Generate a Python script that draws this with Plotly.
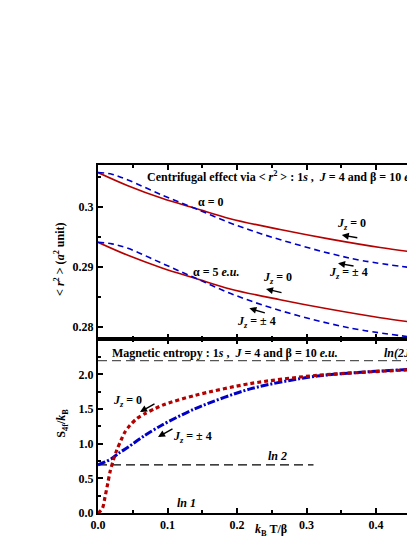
import plotly.graph_objects as go
from plotly.subplots import make_subplots

# top panel: <r^2> vs kT/beta
kt_r0 = [0, 0.043, 0.092, 0.14, 0.19, 0.262, 0.334, 0.406, 0.456]
r2_a0_jz0 = [0.3057, 0.3035, 0.3014, 0.29973, 0.2980, 0.2962, 0.2946, 0.2932, 0.2924]
r2_a5_jz0 = [0.29407, 0.2919, 0.2898, 0.28807, 0.2863, 0.2845, 0.2829, 0.2815, 0.2807]

kt_r4 = [0, 0.02, 0.043, 0.092, 0.14, 0.19, 0.237, 0.286, 0.334, 0.381, 0.456]
r2_a0_jz4 = [0.3057, 0.3054, 0.30445, 0.30195, 0.2997, 0.2973, 0.2954, 0.2937, 0.2922, 0.2910, 0.28975]
r2_a5_jz4 = [0.29407, 0.2938, 0.29307, 0.29057, 0.2881, 0.28557, 0.2836, 0.2819, 0.2805, 0.2794, 0.2782]
r2_ticks = [0.28, 0.29, 0.3]

# bottom panel: magnetic entropy
kt_s0 = [0, 0.0062, 0.0101, 0.014, 0.0173, 0.022, 0.0269, 0.0331, 0.0388, 0.046, 0.0557, 0.0676,
         0.082, 0.0964, 0.14, 0.219, 0.315, 0.456]
s_jz0 = [0, 0.063, 0.231, 0.424, 0.592, 0.76, 0.905, 1.049, 1.169, 1.265, 1.362, 1.434,
         1.506, 1.569, 1.698, 1.867, 1.985, 2.07]
kt_s4 = [0, 0.0101, 0.0197, 0.0292, 0.0436, 0.0676, 0.0916, 0.14, 0.219, 0.315, 0.456]
s_jz4 = [0.693, 0.736, 0.785, 0.857, 0.952, 1.121, 1.266, 1.506, 1.79, 1.975, 2.075]
s_ticks = [0.0, 0.5, 1.0, 1.5, 2.0]

ln2 = 0.6931
ln9 = 2.1972

RED = "#b50000"
BLUE = "#0000c8"
FONT = "'Liberation Serif', 'Times New Roman', serif"

fig = make_subplots(rows=2, cols=1, shared_xaxes=True, vertical_spacing=0)

fig.add_trace(go.Scatter(x=kt_r0, y=r2_a0_jz0, mode="lines", line=dict(color=RED, width=1.6, shape="spline")), row=1, col=1)
fig.add_trace(go.Scatter(x=kt_r0, y=r2_a5_jz0, mode="lines", line=dict(color=RED, width=1.6, shape="spline")), row=1, col=1)
fig.add_trace(go.Scatter(x=kt_r4, y=r2_a0_jz4, mode="lines", line=dict(color=BLUE, width=1.6, dash="6px,4px", shape="spline")), row=1, col=1)
fig.add_trace(go.Scatter(x=kt_r4, y=r2_a5_jz4, mode="lines", line=dict(color=BLUE, width=1.6, dash="6px,4px", shape="spline")), row=1, col=1)

fig.add_trace(go.Scatter(x=[0, 0.456], y=[ln9, ln9], mode="lines", line=dict(color="#555555", width=1.2, dash="9px,5px")), row=2, col=1)
fig.add_trace(go.Scatter(x=[0, 0.31], y=[ln2, ln2], mode="lines", line=dict(color="black", width=1.2, dash="9px,5px")), row=2, col=1)
fig.add_trace(go.Scatter(x=kt_s4, y=s_jz4, mode="lines", line=dict(color=BLUE, width=3, dash="8px,2px,2px,2px", shape="spline", smoothing=0.8)), row=2, col=1)
fig.add_trace(go.Scatter(x=kt_s0, y=s_jz0, mode="lines", line=dict(color=RED, width=3.2, dash="4px,3px", shape="spline", smoothing=0.8)), row=2, col=1)

axis_common = dict(showline=True, linecolor="black", linewidth=2, ticks="inside", ticklen=5, tickwidth=1.5,
                   tickcolor="black", showgrid=False, zeroline=False, automargin=False,
                   tickfont=dict(family=FONT, size=12, color="black", weight="bold"))

fig.update_xaxes(range=[0, 0.456], dtick=0.1, mirror="ticks",
                 minor=dict(dtick=0.05, ticks="inside", ticklen=3, tickcolor="black"), **axis_common)
fig.update_xaxes(showticklabels=False, row=1, col=1)
fig.update_xaxes(tickformat=".1f", row=2, col=1)
fig.update_yaxes(range=[0.27795, 0.30695], tickmode="array", tickvals=r2_ticks,
                 ticktext=[f"{v:g}" for v in r2_ticks],
                 minor=dict(tickmode="linear", tick0=0.28, dtick=0.005, ticks="inside", ticklen=3, tickcolor="black"),
                 row=1, col=1, **axis_common)
fig.update_yaxes(range=[0, 2.51], tickmode="array", tickvals=s_ticks,
                 ticktext=[f"{v:.1f}" for v in s_ticks],
                 minor=dict(tickmode="linear", tick0=0, dtick=0.25, ticks="inside", ticklen=3, tickcolor="black"),
                 row=2, col=1, **axis_common)

tf = dict(family=FONT, size=12, color="black")
notes = [
    # top panel
    dict(x=0.0676, y=0.3051, xref="x", yref="y", xanchor="left",
         text="<b>Centrifugal effect via &lt; <i>r</i><sup>2</sup> &gt; : 1<i>s</i> ,  <i>J</i> = 4 and β = 10 <i>e.u.</i></b>"),
    dict(x=0.163, y=0.30083, xref="x", yref="y", text="<b>α = 0</b>"),
    dict(x=0.17, y=0.28917, xref="x", yref="y", text="<b>α = 5 <i>e.u.</i></b>"),
    dict(x=0.365, y=0.29707, xref="x", yref="y", text="<b><i>J<sub>z</sub></i> = 0</b>"),
    dict(x=0.361, y=0.2889, xref="x", yref="y", text="<b><i>J<sub>z</sub></i> = ± 4</b>"),
    dict(x=0.2577, y=0.28807, xref="x", yref="y", text="<b><i>J<sub>z</sub></i> = 0</b>"),
    dict(x=0.2275, y=0.28073, xref="x", yref="y", text="<b><i>J<sub>z</sub></i> = ± 4</b>"),
    # bottom panel
    dict(x=0.0173, y=2.315, xref="x2", yref="y2", xanchor="left",
         text="<b>Magnetic entropy : 1<i>s</i> ,  <i>J</i> = 4 and β = 10 <i>e.u.</i></b>"),
    dict(x=0.408, y=2.315, xref="x2", yref="y2", xanchor="left", text="<b><i>ln(2J+1)</i></b>"),
    dict(x=0.258, y=0.823, xref="x2", yref="y2", text="<b><i>ln 2</i></b>"),
    dict(x=0.128, y=0.14, xref="x2", yref="y2", text="<b><i>ln 1</i></b>"),
    dict(x=0.043, y=1.616, xref="x2", yref="y2", text="<b><i>J<sub>z</sub></i> = 0</b>"),
    dict(x=0.136, y=1.097, xref="x2", yref="y2", text="<b><i>J<sub>z</sub></i> = ± 4</b>"),
    # axis titles
    dict(x=0.546, y=-0.049, xref="paper", yref="paper", xanchor="center", yanchor="middle",
         text="<b><i>k</i><sub>B</sub> T/β</b>"),
    dict(x=-0.12, y=0.73, xref="paper", yref="paper", xanchor="center", yanchor="middle", textangle=-90,
         text="<b>&lt; <i>r</i><sup>2</sup> &gt; (<i>a</i><sup>2</sup> unit)</b>"),
    dict(x=-0.114, y=0.259, xref="paper", yref="paper", xanchor="center", yanchor="middle", textangle=-90,
         text="<b>S<sub>4f</sub>/<i>k</i><sub>B</sub></b>"),
]
for n in notes:
    fig.add_annotation(showarrow=False, font=tf, **n)

# arrows: head position in data units, tail offset in pixels
arrows = [
    (0.3507, 0.29528, 17, 3, "x", "y"),
    (0.3453, 0.29057, 17, 3, "x", "y"),
    (0.2417, 0.28628, 17, 4, "x", "y"),
    (0.2177, 0.28307, 17, 5, "x", "y"),
    (0.0604, 1.457, 16, -9, "x2", "y2"),
    (0.0863, 1.097, 16, -9, "x2", "y2"),
]
for hx, hy, ax, ay, xr, yr in arrows:
    fig.add_annotation(x=hx, y=hy, xref=xr, yref=yr, ax=ax, ay=ay, text="", showarrow=True,
                       arrowhead=2, arrowsize=1, arrowwidth=1.4, arrowcolor="black", standoff=0)

# page body has an 8px margin, so the figure is sized to fit the window
fig.update_layout(width=407, height=529, showlegend=False,
                  margin=dict(l=90, r=0, t=157, b=24),
                  font=dict(family=FONT),
                  plot_bgcolor="white", paper_bgcolor="white")

fig.write_html("out.html")
